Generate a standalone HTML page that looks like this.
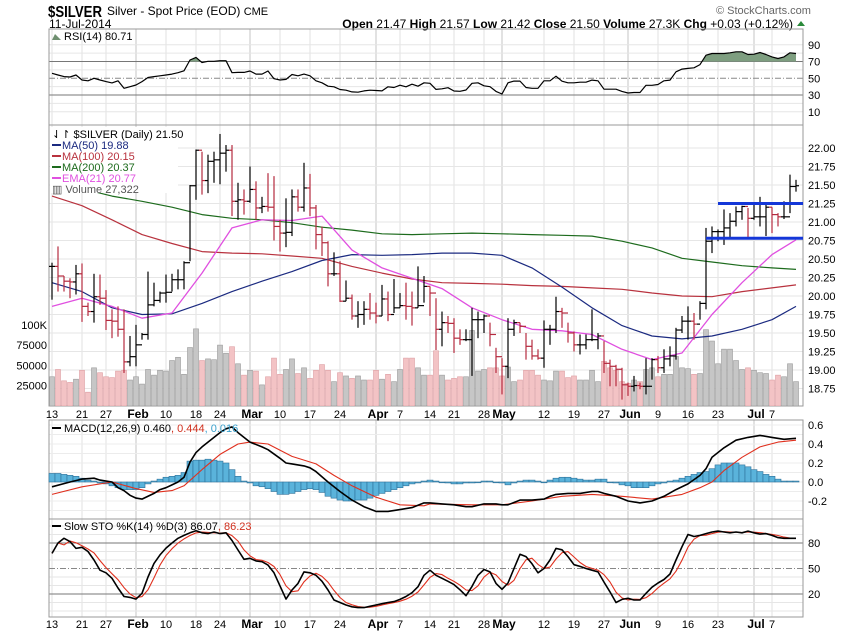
<!DOCTYPE html>
<html><head><meta charset="utf-8"><style>
body{margin:0;background:#fff;}
svg{display:block;font-family:"Liberation Sans",sans-serif;}
</style></head><body>
<svg id="c" width="850" height="633" viewBox="0 0 850 633" xmlns="http://www.w3.org/2000/svg">
<rect width="850" height="633" fill="#fff"/>
<g>
<text x="48" y="17" font-size="16" font-weight="bold" textLength="54" lengthAdjust="spacingAndGlyphs">$SILVER</text>
<text x="107" y="15" font-size="12">Silver - Spot Price (EOD) <tspan font-size="11">CME</tspan></text>
<text x="49" y="28" font-size="12">11-Jul-2014</text>
<text x="716" y="14" font-size="11" fill="#666">© StockCharts.com</text>
<text x="793" y="28" font-size="12" text-anchor="end"><tspan font-weight="bold">Open</tspan> 21.47  <tspan font-weight="bold">High</tspan> 21.57  <tspan font-weight="bold">Low</tspan> 21.42  <tspan font-weight="bold">Close</tspan> 21.50  <tspan font-weight="bold">Volume</tspan> 27.3K  <tspan font-weight="bold">Chg</tspan> +0.03 (+0.12%)</text>
<polygon points="797,26 805,26 801,21" fill="#2a8a3a"/>
</g>
<g id="grid"></g>
<g id="marks"></g>
<g id="labels"></g>
</svg>
<script>
const tickIdx=[0,5,9,14,19,24,28,33,38,43,48,54,58,63,67,72,75,82,87,92,96,101,106,111,117,120];
const tickLab=["13","21","27","Feb","10","18","24","Mar","10","17","24","Apr","7","14","21","28","May","12","19","27","Jun","9","16","23","Jul","7"];
const highs=[20.45,20.67,20.27,20.24,20.42,20.44,19.91,20.30,20.29,20.08,19.82,19.86,19.82,19.46,19.61,19.50,20.33,20.18,20.06,20.29,20.30,20.36,20.47,21.50,21.98,21.95,21.91,21.95,22.19,22.04,22.04,21.53,21.44,21.75,21.55,21.34,21.66,21.62,21.03,21.32,21.44,21.44,21.80,21.65,21.23,20.94,20.74,20.59,20.47,20.21,20.02,19.93,19.93,20.04,19.91,20.15,20.06,20.23,20.04,20.18,20.06,20.40,20.27,
20.13,19.97,19.79,19.73,19.70,19.55,19.55,19.84,19.79,19.75,19.64,19.30,19.16,19.70,19.68,19.64,19.50,19.41,19.28,19.67,19.61,19.99,19.84,19.64,19.52,19.48,19.48,19.82,19.50,19.39,19.14,19.07,19.03,18.83,18.92,18.83,19.16,19.16,19.19,19.28,19.32,19.57,19.73,19.86,19.77,19.93,20.92,20.94,20.90,21.17,21.12,21.21,21.22,21.19,21.26,21.34,21.23,21.20,21.12,21.28,21.64,21.57];
const lows=[19.95,20.06,20.06,19.97,20.02,19.65,19.73,19.64,19.88,19.54,19.43,19.45,18.96,19.05,19.05,19.41,19.41,19.86,19.91,19.91,20.06,20.09,20.09,20.47,21.30,21.37,21.39,21.53,21.51,21.68,21.08,21.03,21.10,21.26,21.03,21.12,21.14,20.75,20.60,20.66,20.81,21.14,21.14,21.08,20.63,20.54,20.13,20.27,19.92,19.93,19.68,19.57,19.61,19.68,19.63,19.73,19.66,19.77,19.84,19.68,19.60,19.84,19.91,
19.73,19.27,19.32,19.50,19.23,19.34,19.39,18.92,19.43,19.50,19.32,18.96,18.67,18.89,19.46,19.50,19.14,19.14,19.14,19.03,19.34,19.50,19.57,19.37,19.25,19.21,19.28,19.39,19.28,18.96,18.78,18.78,18.60,18.65,18.71,18.74,18.67,18.87,18.96,18.96,19.05,19.14,19.50,19.41,19.41,19.68,19.82,20.58,20.74,20.69,20.78,20.94,21.03,20.78,21.03,20.94,20.81,20.85,20.94,21.04,21.12,21.41];
const closes=[20.40,20.27,20.20,20.19,20.30,19.86,19.79,19.99,19.97,19.67,19.66,19.55,19.11,19.18,19.34,19.48,19.88,19.94,20.04,20.05,20.22,20.22,20.45,21.49,21.97,21.56,21.82,21.84,21.93,21.97,21.28,21.30,21.28,21.44,21.19,21.21,21.20,20.94,20.85,20.86,21.34,21.20,21.46,21.19,20.83,20.72,20.30,20.30,19.93,19.97,19.73,19.75,19.82,19.77,19.73,19.96,19.75,19.84,19.87,19.86,19.84,19.87,20.13,
20.04,19.55,19.64,19.63,19.43,19.41,19.41,19.68,19.68,19.73,19.48,19.18,19.05,19.55,19.64,19.59,19.32,19.19,19.16,19.55,19.55,19.79,19.77,19.50,19.34,19.34,19.41,19.41,19.46,19.09,19.05,19.01,18.80,18.78,18.79,18.78,18.78,19.14,19.03,19.15,19.19,19.54,19.66,19.66,19.62,19.90,20.74,20.87,20.87,20.92,21.01,21.14,21.21,21.05,21.07,21.07,21.20,21.10,21.07,21.07,21.48,21.49];
const volK=[36,45,31,29,33,44,17,47,41,36,35,43,44,32,36,27,45,38,44,43,56,60,39,72,95,56,58,57,75,65,73,52,38,44,43,26,36,59,39,45,58,40,47,34,44,51,44,30,41,37,34,37,32,32,44,33,39,30,45,59,59,47,38,
38,68,38,32,34,36,36,93,43,45,47,47,37,48,30,32,44,44,38,32,31,43,43,35,37,32,32,44,30,55,47,44,30,28,32,30,45,47,36,39,39,61,47,46,39,40,94,80,52,70,70,56,45,47,44,41,40,32,38,36,52,30];
const maIdx=[0,5,10,15,20,25,30,35,40,45,50,55,60,65,70,75,80,85,90,95,100,105,110,115,120,124];
const ma50=[20.18,20.06,19.84,19.75,19.76,19.90,20.06,20.20,20.33,20.48,20.56,20.55,20.56,20.58,20.58,20.55,20.38,20.12,19.84,19.60,19.46,19.42,19.46,19.55,19.68,19.86];
const ma100=[21.35,21.22,21.03,20.83,20.71,20.60,20.58,20.57,20.54,20.51,20.40,20.31,20.23,20.18,20.17,20.16,20.14,20.13,20.11,20.09,20.04,20.00,19.99,20.06,20.11,20.15];
const ema21=[19.86,19.97,19.86,19.70,19.77,20.31,20.92,21.03,21.02,21.08,20.62,20.38,20.24,20.10,19.84,19.68,19.55,19.53,19.48,19.28,19.14,19.23,19.75,20.18,20.56,20.76];
const ma200Idx=[5,10,15,20,25,30,35,40,45,50,55,60,65,70,75,80,85,90,95,100,105,110,115,120,124];
const ma200=[21.45,21.35,21.28,21.20,21.10,21.05,21.03,20.99,20.93,20.89,20.84,20.83,20.84,20.85,20.84,20.83,20.82,20.81,20.74,20.65,20.51,20.46,20.41,20.38,20.36];
const rsi=[56,54,52,51.5,54,48,47,50,48,46,44.5,47,38,40,42,46,51,52,53,54,55,56.7,59,71.8,75,68.7,70.3,70.3,71,71,56.7,57,57,58.7,55,55,58.7,49.5,48,48.7,54.5,53,55,53,47,44.6,40.6,39.8,36.6,35.8,33.8,33.4,35,35.8,35.4,35,39.8,39,41.8,39.8,43,40.6,44.6,
44,36.8,37.5,38.8,34.8,34.5,36,44,44.6,41,40,34.4,31.2,44.6,46.6,46.6,39,38,38,47,47,52.5,46.5,44.6,44.6,45.4,45.4,47.8,47,37,37,37,34.4,32.5,33,33,41.6,41.6,42.6,47,47.8,57.8,61,61.8,62.5,66.4,77.6,79.6,79.6,79.6,80.4,81.6,81.6,78.4,78.8,80.8,78.4,75.6,73.6,75.6,80.4,79.6];
const macdIdx=[0,3,5,7,8,10,11,12,13,14,15,17,18,19,20,21,22,23,24,25,26,27,28,29,30,31,33,35,36,38,39,40,42,43,44,46,48,50,52,54,56,58,60,62,63,65,67,69,70,72,74,75,76,78,80,82,83,84,86,88,90,91,92,94,96,98,100,102,104,106,108,109,110,112,114,116,118,120,122,124];
const macdVal=[-0.05,0.0,0.03,0.04,0.02,0.0,-0.06,-0.09,-0.14,-0.17,-0.18,-0.12,-0.08,-0.06,-0.03,0.0,0.05,0.21,0.31,0.37,0.42,0.47,0.52,0.56,0.58,0.52,0.42,0.37,0.34,0.25,0.20,0.19,0.17,0.15,0.11,0.0,-0.10,-0.19,-0.26,-0.31,-0.31,-0.29,-0.27,-0.22,-0.22,-0.23,-0.24,-0.26,-0.26,-0.23,-0.23,-0.24,-0.24,-0.19,-0.19,-0.18,-0.15,-0.13,-0.12,-0.12,-0.10,-0.10,-0.12,-0.15,-0.20,-0.22,-0.20,-0.15,-0.08,-0.02,0.07,0.14,0.26,0.36,0.44,0.47,0.49,0.47,0.45,0.46];
const sigIdx=[0,5,10,14,17,20,22,25,28,31,33,36,40,44,47,50,54,58,62,63,70,75,80,85,90,95,100,105,108,110,112,115,118,121,124];
const sigVal=[-0.13,-0.05,0.0,-0.07,-0.11,-0.09,-0.04,0.13,0.29,0.40,0.42,0.40,0.27,0.19,0.07,-0.04,-0.16,-0.24,-0.25,-0.23,-0.24,-0.24,-0.20,-0.15,-0.13,-0.15,-0.18,-0.13,-0.06,0.0,0.12,0.26,0.37,0.42,0.44];
const hist=[0.09,0.09,0.08,0.07,0.06,0.04,0.02,0.01,-0.01,-0.02,-0.04,-0.06,-0.08,-0.08,-0.08,-0.06,-0.02,0.01,0.03,0.05,0.06,0.07,0.10,0.22,0.23,0.23,0.24,0.23,0.22,0.20,0.13,0.06,0.01,-0.01,-0.04,-0.05,-0.07,-0.10,-0.13,-0.13,-0.12,-0.10,-0.08,-0.07,-0.08,-0.11,-0.15,-0.17,-0.19,-0.20,-0.20,-0.19,-0.19,-0.17,-0.14,-0.12,-0.10,-0.08,-0.06,-0.04,-0.02,-0.01,0.01,
0.02,0.01,0,-0.01,-0.02,-0.02,-0.01,-0.01,0,0.01,0.01,0,-0.01,-0.03,-0.01,0.01,0.02,0.02,0.01,0,0.02,0.04,0.05,0.05,0.04,0.03,0.02,0.02,0.03,0.03,0,-0.01,-0.03,-0.04,-0.06,-0.06,-0.06,-0.04,-0.02,-0.01,0.01,0.02,0.04,0.06,0.08,0.10,0.11,0.14,0.18,0.20,0.20,0.20,0.18,0.16,0.13,0.11,0.08,0.06,0.03,0.01,0.01,0.01];
const stoK=[67.8,80,85.5,81.6,73.7,75,70,60,48,45,38.5,27,17,16,14,20.8,40,56,66,74,80,85.5,89,92,94.5,92,91,93,91,92,83,71.8,60.8,62,59,58,54,45,29.5,14,24.7,32.5,46,45,42,35,24.7,13,10,7,5,4,4,5.5,7,8.6,10,11,13.7,17,21.5,28.6,42,
48,42,38.5,35,31,25,18,29,42,48.8,46,32.5,25.5,33,50,66.7,64,55.5,45,50,60,73.7,72,64,54.5,52.5,50,48,46,34,22.5,10,13.7,15,13,13,20.8,28,33,37,43.5,60,75.7,90,87.6,89,91,93,94,93,92,93,92,94,92,90.5,91,89,86.4,85.5,85.5,85.5];
const priceTicks=["18.75","19.00","19.25","19.50","19.75","20.00","20.25","20.50","20.75","21.00","21.25","21.50","21.75","22.00"];
const resistance=21.25, support=20.78;

const NS="http://www.w3.org/2000/svg";
const L=49,R=803;
const P={rsi:[29,125],price:[125,406],macd:[420,519],sto:[519,617]};
const X=i=>52+6*i;
const yP=p=>148+(22-p)*74;
const yV=v=>406-v*0.812;
const yR=v=>78.3-(v-50)*0.8375;
const yM=v=>482-v*95;
const yS=v=>543-(v-80)*0.85;
const G=document.getElementById('grid'),M=document.getElementById('marks'),T=document.getElementById('labels');
function mk(tag,attrs,parent){const e=document.createElementNS(NS,tag);for(const k in attrs)e.setAttribute(k,attrs[k]);parent.appendChild(e);return e;}
function txt(x,y,s,attrs,parent){const e=mk('text',Object.assign({x:x,y:y,'font-size':11},attrs),parent);e.textContent=s;return e;}

const defs=mk('defs',{},document.getElementById('c'));
for(const k in P){const cp=mk('clipPath',{id:'clip-'+k},defs);mk('rect',{x:L,y:P[k][0],width:R-L,height:P[k][1]-P[k][0]},cp);}
const cp70=mk('clipPath',{id:'clip-ob'},defs);mk('rect',{x:L,y:P.rsi[0],width:R-L,height:yR(70)-P.rsi[0]},cp70);

for(const k in P){
  for(let t=0;t<tickIdx.length;t++){
    const month=isNaN(+tickLab[t]);
    const l=mk('line',{x1:X(tickIdx[t]),x2:X(tickIdx[t]),y1:P[k][0],y2:P[k][1],stroke:month?'#c4c4c4':'#e2e2e2','stroke-width':1},G);
    
    
  }
}
function hline(y,stroke,dash,name){const l=mk('line',{x1:L,x2:R,y1:y,y2:y,stroke:stroke,'stroke-width':1},G);if(dash)l.setAttribute('stroke-dasharray',dash);return l;}
for(let v=10;v<=90;v+=10){if(v!==30&&v!==50&&v!==70)hline(yR(v),'#e6e6e6',null,'rsi-gridline');}
hline(yR(70),'#777',null,'rsi-overbought-line');hline(yR(30),'#777',null,'rsi-oversold-line');hline(yR(50),'#888','6,2,1,2','rsi-midline');
for(let t=0;t<priceTicks.length;t++){hline(yP(+priceTicks[t]),'#e6e6e6',null,'price-gridline');}
for(let v=-0.3;v<=0.61;v+=0.1){hline(yM(v),'#ececec',null,'macd-gridline');}
for(let v=0;v<=100;v+=10){if(v!==20&&v!==50&&v!==80&&yS(v)<P.sto[1]&&yS(v)>P.sto[0])hline(yS(v),'#e6e6e6',null,'sto-gridline');}
hline(yS(80),'#777',null,'sto-80-line');hline(yS(20),'#777',null,'sto-20-line');hline(yS(50),'#888','6,2,1,2','sto-50-line');

for(const k in P){const r=mk('rect',{x:L,y:P[k][0],width:R-L,height:P[k][1]-P[k][0],fill:'none',stroke:'#999'},G);}

function poly(idx,vals,yf,color,w,clip,name){
  const pts=idx.map((i,j)=>X(i).toFixed(1)+','+yf(vals[j]).toFixed(1)).join(' ');
  const e=mk('polyline',{points:pts,fill:'none',stroke:color,'stroke-width':w,'clip-path':'url(#clip-'+clip+')','stroke-linejoin':'round'},M);
  
  
  return e;
}
const allIdx=closes.map((_,i)=>i);

const rsiPts=allIdx.map(i=>X(i)+','+yR(rsi[i])).join(' ');
const rsiFill=mk('polygon',{points:X(0)+','+yR(70)+' '+rsiPts+' '+X(124)+','+yR(70),fill:'#7e9e80',stroke:'none','clip-path':'url(#clip-ob)'},M);


poly(allIdx,rsi,yR,'#000',1.2,'rsi','rsi-line');

const volG=mk('g',{'clip-path':'url(#clip-price)'},M);
for(let i=0;i<closes.length;i++){
  const down=i>0&&closes[i]<closes[i-1];
  const r=mk('rect',{x:X(i)-2.5,y:yV(volK[i]),width:5,height:406-yV(volK[i]),fill:down?'#f3c3c5':'#c6c6c6',stroke:down?'#dd9ea2':'#9a9a9a','stroke-width':0.6},volG);
  
  
}
poly(ma200Idx,ma200,yP,'#1d6b1d',1.2,'price','ma200-line');
poly(maIdx,ma100,yP,'#b8323e',1.2,'price','ma100-line');
poly(maIdx,ma50,yP,'#1b2a80',1.2,'price','ma50-line');
poly(maIdx,ema21,yP,'#e050e0',1.3,'price','ema21-line');
for(let i=0;i<closes.length;i++){
  const down=i>0&&closes[i]<closes[i-1];
  const col=down?'#b52a3e':'#000';
  const open=i>0?closes[i-1]:closes[i];
  const g=mk('g',{stroke:col,'stroke-width':1.2,'clip-path':'url(#clip-price)'},M);
  
  
  mk('line',{x1:X(i),x2:X(i),y1:yP(highs[i]),y2:yP(lows[i])},g);
  mk('line',{x1:X(i)-3,x2:X(i),y1:yP(open),y2:yP(open)},g);
  mk('line',{x1:X(i),x2:X(i)+3,y1:yP(closes[i]),y2:yP(closes[i])},g);
}
const res=mk('line',{x1:X(111),x2:R,y1:yP(resistance),y2:yP(resistance),stroke:'#1437d8','stroke-width':3},M);


const sup=mk('line',{x1:X(109),x2:R,y1:yP(support),y2:yP(support),stroke:'#1437d8','stroke-width':3},M);



for(let i=0;i<hist.length;i++){
  const y0=yM(0),y1=yM(hist[i]);
  const r=mk('rect',{x:X(i)-3,y:Math.min(y0,y1),width:6,height:Math.max(0.8,Math.abs(y1-y0)),fill:'#5ab3db',stroke:'#2d7199','stroke-width':0.6},M);
  
  
}
poly(sigIdx,sigVal,yM,'#e0301e',1.1,'macd','macd-signal-line');
poly(macdIdx,macdVal,yM,'#000',1.6,'macd','macd-line');

const stoD=stoK.map((v,i)=>i<2?v:(stoK[i]+stoK[i-1]+stoK[i-2])/3);
poly(allIdx,stoD,yS,'#e0301e',1.1,'sto','sto-d-line');
poly(allIdx,stoK,yS,'#000',1.6,'sto','sto-k-line');

function rlab(y,s,name){const e=txt(808,y+4,s,{},T);}
[90,70,50,30,10].forEach(v=>rlab(yR(v),String(v),'rsi-tick-label'));
priceTicks.forEach(s=>rlab(yP(+s),s,'price-tick-label'));
[0.6,0.4,0.2,0.0,-0.2].forEach(v=>rlab(yM(v),v.toFixed(1),'macd-tick-label'));
[80,50,20].forEach(v=>rlab(yS(v),String(v),'sto-tick-label'));
[["100K",100],["75000",75],["50000",50],["25000",25]].forEach(a=>{const e=txt(47,yV(a[1])+4,a[0],{'text-anchor':'end'},T);});
[414,624].forEach((yy,row)=>{
  for(let t=0;t<tickIdx.length;t++){
    const month=isNaN(+tickLab[t]);
    const e=txt(X(tickIdx[t])+(month?2:0),yy+4,tickLab[t],{'text-anchor':'middle','font-weight':month?'bold':'normal','font-size':month?12:11},T);
    
    
  }
});
</script>
<script>
(function(){
const NS="http://www.w3.org/2000/svg",T=document.getElementById('labels');
function t(x,y,s,fill,name,parent){const e=document.createElementNS(NS,'text');e.setAttribute('x',x);e.setAttribute('y',y);e.setAttribute('font-size',11);e.setAttribute('fill',fill);e.textContent=s;(parent||T).appendChild(e);return e;}
function dash(x,y,c){const l=document.createElementNS(NS,'line');l.setAttribute('x1',x);l.setAttribute('x2',x+9);l.setAttribute('y1',y);l.setAttribute('y2',y);l.setAttribute('stroke',c);l.setAttribute('stroke-width',2);T.appendChild(l);}
const ic=document.createElementNS(NS,'polygon');ic.setAttribute('points','52,40 55,34 58,37 61,40');ic.setAttribute('fill','#6f8f70');T.appendChild(ic);
t(64,40,'RSI(14) 80.71','#000','rsi-legend');
const bg=document.createElementNS(NS,'rect');bg.setAttribute('x',50);bg.setAttribute('y',127);bg.setAttribute('width',128);bg.setAttribute('height',66);bg.setAttribute('fill','#fff');T.appendChild(bg);
t(52,138,'⇃↾ $SILVER (Daily) 21.50','#000','price-legend-title');
dash(52,145,'#1b2a80');t(62,149,'MA(50) 19.88','#1b2a80','legend-ma50');
dash(52,156,'#b8323e');t(62,160,'MA(100) 20.15','#b8323e','legend-ma100');
dash(52,167,'#1d6b1d');t(62,171,'MA(200) 20.37','#1d6b1d','legend-ma200');
dash(52,178,'#e050e0');t(62,182,'EMA(21) 20.77','#e050e0','legend-ema21');
t(52,193,'▥ Volume 27,322','#555','legend-volume');
dash(52,428,'#000');
const m=t(64,432,'MACD(12,26,9) 0.460','#000','macd-legend');
const s1=document.createElementNS(NS,'tspan');s1.setAttribute('fill','#d0301e');s1.textContent=', 0.444';m.appendChild(s1);
const s2=document.createElementNS(NS,'tspan');s2.setAttribute('fill','#3aa0cc');s2.textContent=', 0.016';m.appendChild(s2);
dash(52,526,'#000');
const st=t(64,530,'Slow STO %K(14) %D(3) 86.07','#000','sto-legend');
const s3=document.createElementNS(NS,'tspan');s3.setAttribute('fill','#d0301e');s3.textContent=', 86.23';st.appendChild(s3);
})();
</script>
</body></html>
